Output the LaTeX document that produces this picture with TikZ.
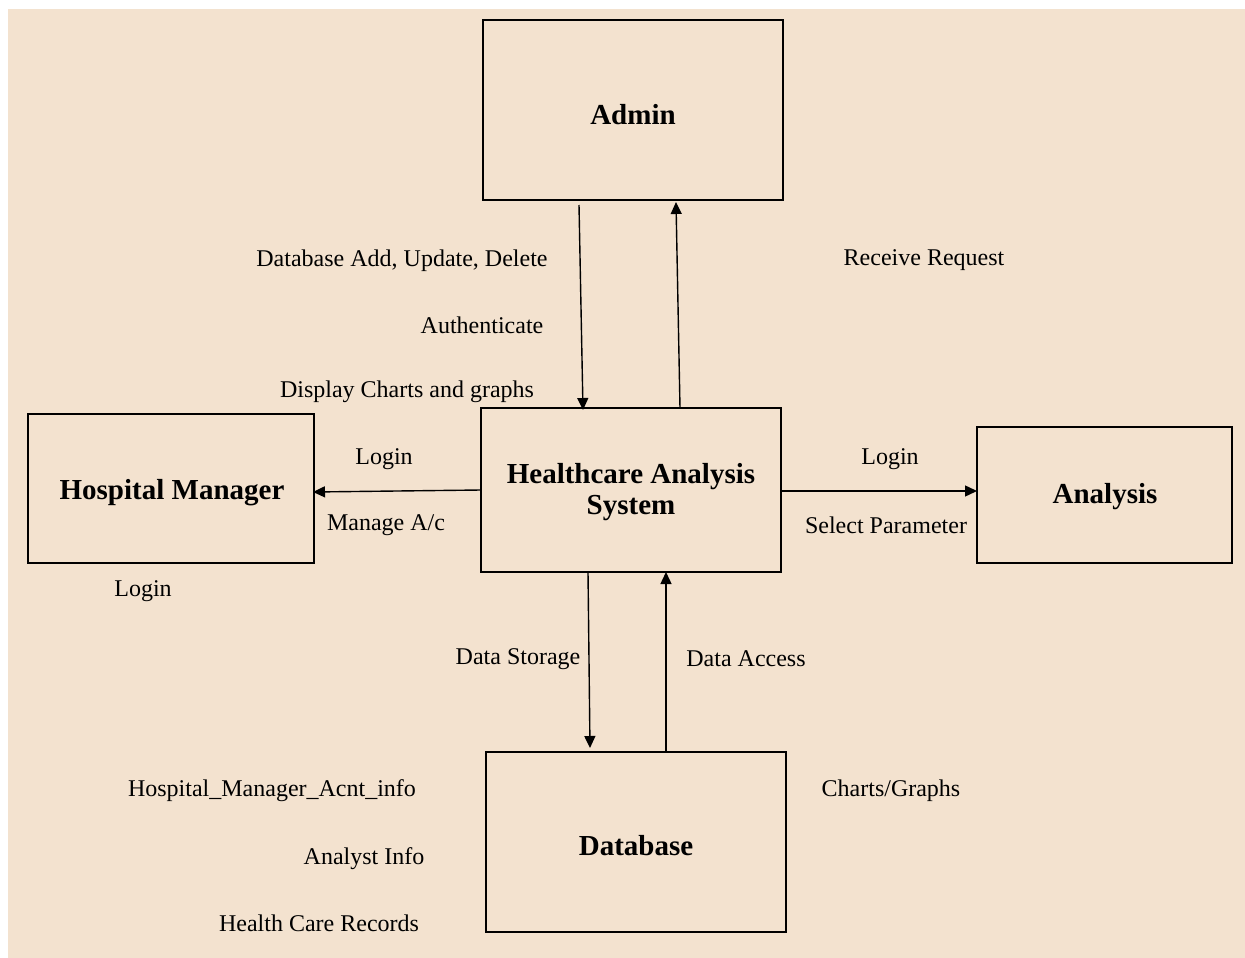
\documentclass[tikz,border=0pt]{standalone}
\usepackage{fontspec}
\setmainfont{Liberation Serif}
\usetikzlibrary{arrows.meta}
\definecolor{bg}{HTML}{F3E2CF}
\begin{document}
\begin{tikzpicture}[x=1pt,y=-1pt,
  box/.style={draw=black,line width=2.8pt,inner sep=0pt},
  title/.style={font=\fontsize{29}{31}\selectfont\bfseries,align=center,yshift=-2.5pt},
  lbl/.style={font=\fontsize{24}{28}\selectfont,inner sep=0pt,yshift=-2.5pt},
  flow/.style={line width=1.4pt,-{Triangle[length=12pt,width=11pt]}}]
\useasboundingbox (0,0) rectangle (1245,958);
\fill[white] (0,0) rectangle (1245,958);
\fill[bg] (8,9) rectangle (1245,958);
% boxes
\draw[box] (483,20) rectangle (783,200);
\node[title] (admin) at (633,112) {Admin};
\draw[box] (481,408) rectangle (781,572);
\node[title] (has) at (631,490) {Healthcare Analysis\\System};
\draw[box] (28,414) rectangle (314,563);
\node[title] (hm) at (172,490) {Hospital Manager};
\draw[box] (977,427) rectangle (1232,563);
\node[title] (an) at (1105,494) {Analysis};
\draw[box] (486,752) rectangle (786,932);
\node[title] (db) at (636,843) {Database};
% connector endpoints
\coordinate (a1) at (579,205);
\coordinate (h1) at (583,410);
\coordinate (h2) at (680,408);
\coordinate (a2) at (676,202);
\coordinate (h3) at (481,490);
\coordinate (m1) at (313,492);
\coordinate (h4) at (781,491);
\coordinate (n1) at (977,491);
\coordinate (h5) at (588,572);
\coordinate (d1) at (590,748);
\coordinate (d2) at (666,752);
\coordinate (h6) at (666,572);
\draw[flow] (a1) -- (h1);
\draw[flow] (h2) -- (a2);
\draw[flow] (h3) -- (m1);
\draw[flow] (h4) -- (n1);
\draw[flow] (h5) -- (d1);
\draw[flow] (d2) -- (h6);
% labels
\node[lbl] (l1) at (402,258) {Database Add, Update, Delete};
\node[lbl] (l2) at (482,323) {Authenticate};
\node[lbl] (l3) at (407,389) {Display Charts and graphs};
\node[lbl] (l4) at (924,258) {Receive Request};
\node[lbl] (l5) at (384,457) {Login};
\node[lbl] (l6) at (386,523) {Manage A/c};
\node[lbl] (l7) at (890,457) {Login};
\node[lbl] (l8) at (886,523) {Select Parameter};
\node[lbl] (l9) at (143,589) {Login};
\node[lbl] (l10) at (518,657) {Data Storage};
\node[lbl] (l11) at (746,656) {Data Access};
\node[lbl] (l12) at (272,788) {Hospital\_Manager\_Acnt\_info};
\node[lbl] (l13) at (364,856) {Analyst Info};
\node[lbl] (l14) at (319,921) {Health Care Records};
\node[lbl] (l15) at (891,788) {Charts/Graphs};
\end{tikzpicture}
\end{document}
